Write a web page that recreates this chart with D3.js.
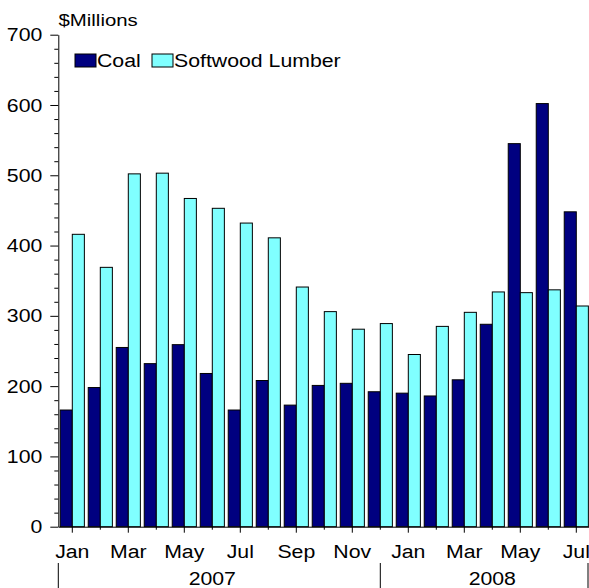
<!DOCTYPE html>
<html lang="en">
<head>
    <meta charset="UTF-8">
    <title>Coal and Softwood Lumber</title>
    <script src="https://d3js.org/d3.v7.min.js"></script>
    <style>
        body { margin: 0; background: #fff; }
        text { font-family: "Liberation Sans", Arial, sans-serif; fill: #000; }
        .wide { transform-box: fill-box; transform: scaleX(1.12); }
    </style>
</head>
<body>
    <div id="chart"></div>

    <script>
        // Data
        const monthLabels = ["Jan", "Feb", "Mar", "Apr", "May", "Jun", "Jul", "Aug", "Sep", "Oct", "Nov", "Dec",
                             "Jan", "Feb", "Mar", "Apr", "May", "Jun", "Jul"];
        const years = ["2007", "2008"];
        const monthsInYear = [12, 7];
        const coal = [166, 198, 255, 232, 259, 218, 166, 208, 173, 201, 204, 192,
                      190, 186, 209, 288, 545, 602, 448];
        const lumber = [416, 369, 502, 503, 467, 453, 432, 411, 341, 306, 281, 289,
                        245, 285, 305, 334, 333, 337, 314];
        const seriesNames = ["Coal", "Softwood Lumber"];
        const yTicks = [0, 100, 200, 300, 400, 500, 600, 700];

        const svgWidth = 589;
        const svgHeight = 588;
        const margin = { top: 34.7, right: -1.3, bottom: 61.3, left: 58.3 };
        const colors = ["#000080", "#80ffff"];
        const fontSize = 19;

        const svg = d3.select("#chart")
            .append("svg")
            .attr("width", svgWidth)
            .attr("height", svgHeight);

        const idx = d3.range(monthLabels.length);

        // Scales
        const x = d3.scaleBand()
            .domain(idx)
            .range([margin.left, svgWidth - margin.right]);

        const xSub = d3.scaleBand()
            .domain([0, 1])
            .range([0, x.bandwidth()])
            .paddingInner(0)
            .paddingOuter(0.16);

        const y = d3.scaleLinear()
            .domain([0, 700])
            .range([svgHeight - margin.bottom, margin.top]);

        // Bars
        const series = [coal, lumber];
        series.forEach((vals, s) => {
            svg.append("g")
                .selectAll("rect")
                .data(vals)
                .enter().append("rect")
                .attr("x", (d, i) => x(i) + xSub(s))
                .attr("y", d => y(d))
                .attr("width", xSub.bandwidth())
                .attr("height", d => y(0) - y(d))
                .attr("fill", colors[s])
                .attr("stroke", "#000")
                .attr("stroke-width", 1);
        });

        // Y axis: minor ticks then major ticks
        const minor = d3.range(0, 701, 20).filter(v => v % 100 !== 0);
        svg.append("g")
            .attr("transform", `translate(${margin.left},0)`)
            .call(d3.axisLeft(y).tickValues(minor).tickSize(4).tickFormat(""))
            .call(g => g.select(".domain").remove());

        const yAxis = svg.append("g")
            .attr("transform", `translate(${margin.left},0)`)
            .call(d3.axisLeft(y).tickValues(yTicks).tickSize(8).tickSizeOuter(0).tickPadding(8));
        yAxis.selectAll("text")
            .attr("font-size", fontSize)
            .attr("font-family", null)
            .attr("class", "wide")
            .style("transform-origin", "right center");

        // X axis
        const xAxis = svg.append("g")
            .attr("transform", `translate(0,${y(0)})`)
            .call(d3.axisBottom(x)
                .tickSize(6)
                .tickSizeOuter(0)
                .tickPadding(12)
                .tickFormat(i => i % 2 === 0 ? monthLabels[i] : ""));
        xAxis.selectAll(".tick line")
            .attr("y2", i => i % 2 === 0 ? 6 : 3);
        xAxis.selectAll("text")
            .attr("font-size", fontSize)
            .attr("font-family", null)
            .attr("class", "wide")
            .style("transform-origin", "center");

        svg.selectAll(".domain, .tick line").attr("stroke", "#000");

        // Year labels and separators
        let start = 0;
        const sepTop = 563;
        const sepX = [x.range()[0]];
        years.forEach((yr, k) => {
            const end = start + monthsInYear[k] - 1;
            const mid = Math.floor((start + end) / 2);
            svg.append("text")
                .attr("x", x(mid) + x.bandwidth() / 2)
                .attr("y", 585)
                .attr("text-anchor", "middle")
                .attr("font-size", fontSize)
                .attr("class", "wide")
                .style("transform-origin", "center")
                .text(yr);
            if (k < years.length - 1) sepX.push(x(end) + x.bandwidth() / 2);
            start = end + 1;
        });
        sepX.push(Math.min(x.range()[1], svgWidth - 1));
        svg.selectAll(".sep")
            .data(sepX)
            .enter().append("line")
            .attr("x1", d => d).attr("x2", d => d)
            .attr("y1", sepTop).attr("y2", svgHeight)
            .attr("stroke", "#000");

        // Unit label
        svg.append("text")
            .attr("x", 58.5)
            .attr("y", 26)
            .attr("font-size", 17)
            .attr("class", "wide")
            .style("transform-origin", "left center")
            .style("transform", "scaleX(1.2)")
            .text("$Millions");

        // Legend
        const legendX = [75, 152];
        seriesNames.forEach((name, s) => {
            svg.append("rect")
                .attr("x", legendX[s])
                .attr("y", 54)
                .attr("width", 21)
                .attr("height", 13)
                .attr("fill", colors[s])
                .attr("stroke", "#000");
            svg.append("text")
                .attr("x", legendX[s] + 22)
                .attr("y", 67.5)
                .attr("font-size", fontSize)
                .attr("class", "wide")
                .style("transform-origin", "left center")
                .text(name);
        });
    </script>
</body>
</html>
